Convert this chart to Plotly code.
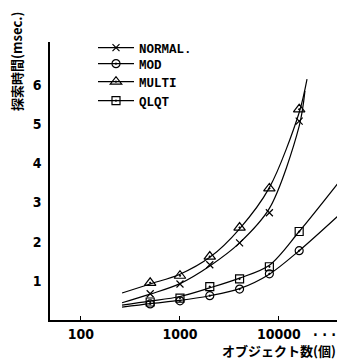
import plotly.graph_objects as go

# ---- data ----
objects = [500, 1000, 2000, 4000, 8000, 16000]

normal = [0.67, 0.92, 1.41, 1.97, 2.74, 5.08]
mod = [0.41, 0.49, 0.62, 0.79, 1.18, 1.77]
multi = [0.95, 1.13, 1.62, 2.36, 3.36, 5.38]
qlqt = [0.46, 0.56, 0.85, 1.05, 1.36, 2.26]

# fitted curves drawn in the figure
normal_curve_x = [260, 500, 1000, 2000, 4000, 8000, 16000, 18300]
normal_curve_y = [0.44, 0.66, 0.93, 1.38, 1.97, 2.85, 4.95, 5.85]
mod_curve_x = [260, 500, 1000, 2000, 4000, 8000, 16000, 46400]
mod_curve_y = [0.33, 0.42, 0.50, 0.62, 0.80, 1.17, 1.77, 2.82]
multi_curve_x = [260, 500, 1000, 2000, 4000, 8000, 16000, 19200]
multi_curve_y = [0.69, 0.92, 1.17, 1.60, 2.33, 3.38, 5.30, 6.15]
qlqt_curve_x = [260, 500, 1000, 2000, 4000, 8000, 16000, 46400]
qlqt_curve_y = [0.38, 0.48, 0.60, 0.82, 1.07, 1.40, 2.26, 3.72]

x_tickvals = [100, 1000, 10000]
x_ticktext = ["100", "1000", "10000"]
x_tick_suffix = ". . ."
y_tickvals = [1, 2, 3, 4, 5, 6]

series = [
    ("NORMAL.", normal, normal_curve_x, normal_curve_y, "x-thin-open", 7),
    ("MOD", mod, mod_curve_x, mod_curve_y, "circle-open-dot", 8),
    ("MULTI", multi, multi_curve_x, multi_curve_y, "triangle-up-open-dot", 10),
    ("QLQT", qlqt, qlqt_curve_x, qlqt_curve_y, "square-open-dot", 8),
]
legend_ids = ["legend", "legend2", "legend3", "legend4"]
legend_centers = [48, 64, 82, 101]  # window pixel rows of the legend entries

# page body has an 8px margin: figure is sized/offset to compensate
W, H = 337, 354
L, T, B = 42, 34, 42
PW, PH = W - L, H - T - B


def px(xp):
    return (xp - 8 - L) / PW


def py(yp):
    return 1 - (yp - 8 - T) / PH


fig = go.Figure()
line_style = dict(color="black", width=1.2)
for (name, vals, cx, cy, sym, sz), lid in zip(series, legend_ids):
    fig.add_trace(go.Scatter(x=cx, y=cy, mode="lines",
                             line=dict(shape="spline", smoothing=0.9, **line_style),
                             showlegend=False, hoverinfo="skip"))
    fig.add_trace(go.Scatter(x=objects, y=vals, mode="markers",
                             marker=dict(symbol=sym, size=sz, color="black",
                                         line=dict(color="black", width=1.2)),
                             showlegend=False))
    fig.add_trace(go.Scatter(x=[None], y=[None], mode="lines+markers", name=name,
                             legend=lid, line=line_style,
                             marker=dict(symbol=sym, size=sz, color="black",
                                         line=dict(color="black", width=1.2))))

tick_font = dict(family="DejaVu Sans Condensed", size=14, color="black", weight="bold")
legend_font = dict(family="Liberation Mono", size=12.5, color="black", weight="bold")

legend_layout = {}
for lid, yc in zip(legend_ids, legend_centers):
    legend_layout[lid] = dict(x=px(93), y=py(yc), xanchor="left", yanchor="middle",
                              itemwidth=36,
                              bgcolor="rgba(0,0,0,0)", font=legend_font)

fig.update_layout(
    width=W, height=H,
    margin=dict(l=L, r=0, t=T, b=B, pad=0),
    paper_bgcolor="white", plot_bgcolor="white",
    showlegend=True,
    xaxis=dict(type="log", range=[1.687, 4.667], showgrid=False, zeroline=False,
               showline=True, linecolor="black", linewidth=1.5,
               tickvals=x_tickvals, ticktext=x_ticktext, ticks="inside", ticklen=4,
               tickcolor="black", tickfont=tick_font),
    yaxis=dict(range=[0, 7.1], showgrid=False, zeroline=False,
               showline=True, linecolor="black", linewidth=1.5,
               tickvals=y_tickvals, ticks="", ticklabelstandoff=4, tickfont=tick_font),
    annotations=[
        dict(text="探索時間(msec.)", textangle=-90, xref="paper", yref="paper",
             x=px(16), y=py(62), xanchor="center", yanchor="middle",
             showarrow=False,
             font=dict(family="Noto Sans CJK JP", size=13, color="black", weight="bold")),
        dict(text="オブジェクト数(個)", xref="paper", yref="paper",
             x=px(338), y=py(350), xanchor="right", yanchor="middle",
             showarrow=False,
             font=dict(family="Noto Sans CJK JP", size=13, color="black", weight="bold")),
        dict(text=x_tick_suffix, xref="paper", yref="paper",
             x=px(311), y=py(331), xanchor="left", yanchor="middle",
             showarrow=False,
             font=dict(family="DejaVu Sans Condensed", size=14, color="black", weight="bold")),
    ],
    **legend_layout,
)

fig.write_html("out.html")
